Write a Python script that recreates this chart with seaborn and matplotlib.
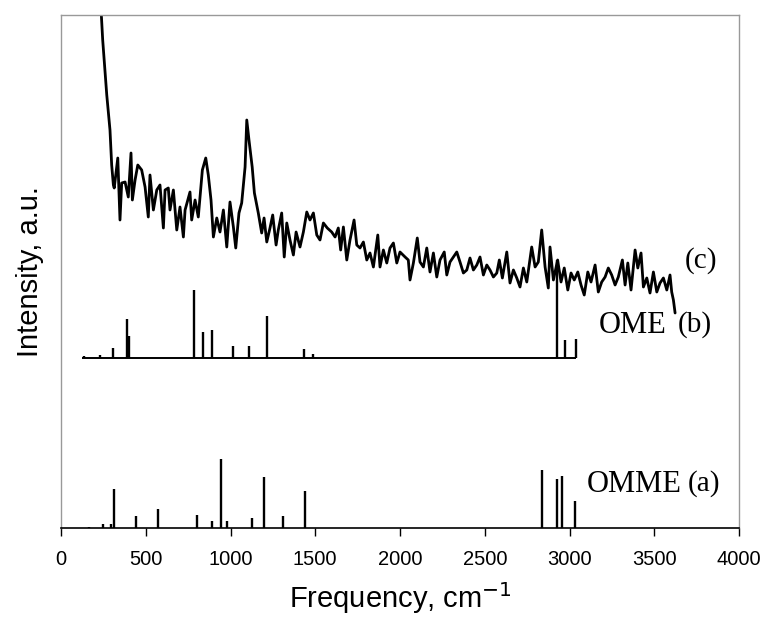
import matplotlib
matplotlib.use("Agg")
import matplotlib.pyplot as plt
import seaborn as sns
import pandas as pd

# spectrum (c), frequency in cm-1 and intensity in arbitrary units
c_freq = [238, 246, 270, 289, 299, 309, 314, 335, 348, 358, 378, 397, 413, 421,
          437, 453, 476, 496, 515, 525, 545, 565, 584, 604, 614, 633, 643, 663,
          683, 702, 722, 732, 761, 771, 791, 810, 834, 854, 869, 885, 899, 919,
          938, 958, 978, 997, 1017, 1031, 1050, 1066, 1086, 1096, 1109, 1128,
          1141, 1164, 1184, 1198, 1214, 1233, 1249, 1269, 1282, 1302, 1317,
          1332, 1351, 1371, 1387, 1410, 1430, 1450, 1469, 1489, 1509, 1528,
          1548, 1571, 1597, 1617, 1636, 1650, 1666, 1686, 1705, 1729, 1745,
          1764, 1784, 1804, 1823, 1843, 1869, 1882, 1902, 1922, 1941, 1961,
          1981, 2000, 2030, 2049, 2059, 2079, 2102, 2118, 2138, 2158, 2177,
          2197, 2217, 2236, 2261, 2276, 2295, 2315, 2335, 2354, 2374, 2394,
          2413, 2433, 2453, 2472, 2492, 2512, 2531, 2551, 2571, 2586, 2604,
          2630, 2649, 2669, 2689, 2708, 2728, 2748, 2777, 2797, 2816, 2836,
          2856, 2875, 2885, 2905, 2930, 2950, 2969, 2990, 3009, 3028, 3049,
          3068, 3087, 3108, 3127, 3151, 3170, 3190, 3210, 3229, 3249, 3269,
          3288, 3312, 3328, 3344, 3363, 3387, 3403, 3422, 3436, 3456, 3475,
          3495, 3515, 3534, 3554, 3574, 3593, 3603, 3613, 3623]
c_int = [513, 488, 433, 398, 363, 343, 340, 370, 308, 345, 346, 331, 375, 328,
         348, 363, 358, 341, 311, 353, 318, 338, 343, 300, 338, 340, 318, 338,
         298, 321, 291, 318, 336, 308, 328, 311, 358, 370, 353, 328, 291, 310,
         296, 318, 281, 326, 301, 280, 315, 325, 361, 408, 388, 361,
         335, 315, 295, 310, 286, 300, 313, 283, 298, 315, 271,
         305, 288, 273, 296, 281, 296, 316, 308, 315, 293, 288,
         305, 300, 296, 291, 300, 278, 301, 268, 288, 308, 283,
         280, 286, 268, 275, 261, 293, 261, 278, 265, 280, 285,
         265, 276, 271, 268, 248, 265, 290, 266, 261, 280, 256,
         275, 251, 268, 276, 253, 266, 271, 276, 266, 255, 258,
         270, 258, 263, 271, 253, 263, 258, 251, 255, 268, 250,
         276, 245, 258, 250, 241, 260, 246, 281, 261, 266, 298,
         261, 240, 281, 248, 268, 246, 260, 238, 255, 248, 256,
         243, 233, 256, 246, 263, 236, 246, 251, 260, 253, 243,
         251, 268, 243, 265, 238, 278, 260, 275, 241, 250, 235,
         256, 236, 245, 250, 238, 253, 236, 228, 215]

# OME (b) calculated lines
ome_base = 170
ome_range = [124, 3038]
ome_freq = [135, 230, 305, 391, 401, 787, 840, 889, 1017, 1109, 1217, 1436,
            1485, 2928, 2975, 3036]
ome_int = [2, 3, 10, 39, 22, 68, 26, 28, 12, 12, 42, 9, 4, 98, 18, 19]

# OMME (a) calculated lines
omme_freq = [165, 250, 293, 315, 442, 572, 800, 889, 944, 977, 1129, 1200,
             1308, 1440, 2838, 2924, 2958, 3033]
omme_int = [1, 4, 4, 39, 12, 19, 13, 7, 69, 7, 10, 51, 12, 37, 58, 49, 52, 27]

sns.set_style("ticks")
plt.rcParams['font.family'] = ['Liberation Sans', 'DejaVu Sans']
plt.rcParams['text.color'] = 'black'
plt.rcParams['axes.labelcolor'] = 'black'
plt.rcParams['xtick.color'] = 'black'
plt.rcParams['xtick.labelcolor'] = 'black'

fig = plt.figure(figsize=(7.63, 6.22), dpi=100)
ax = fig.add_axes([61 / 763, 94 / 622, 678 / 763, 513 / 622])

spec = pd.DataFrame({"freq": c_freq, "intensity": c_int})
sns.lineplot(data=spec, x="freq", y="intensity", color="black", lw=2.0,
             estimator=None, ax=ax)

ax.hlines(ome_base, ome_range[0], ome_range[1], color="black", lw=1.4)
ax.vlines(ome_freq, ome_base, [ome_base + v for v in ome_int],
          color="black", lw=1.7)
ax.vlines(omme_freq, 0, omme_int, color="black", lw=1.7)

serif = ['Liberation Serif', 'DejaVu Serif']
ax.text(3100, 44, "OMME", family=serif, fontsize=22, va="center")
ax.text(3700, 44, "(a)", family=serif, fontsize=21, va="center")
ax.text(3175, 203, "OME", family=serif, fontsize=22, va="center")
ax.text(3640, 203, "(b)", family=serif, fontsize=21, va="center")
ax.text(3682, 267, "(c)", family=serif, fontsize=21, va="center")

ax.set_xlim(0, 4000)
ax.set_ylim(0, 513)
ax.set_xticks(range(0, 4001, 500))
ax.set_yticks([])
ax.tick_params(axis="x", direction="out", length=6, width=1,
               labelsize=14.5, pad=10)
ax.set_xlabel("Frequency, cm$^{-1}$", fontsize=21, labelpad=8)
ax.set_ylabel("Intensity, a.u.", fontsize=21, labelpad=12)

for side in ["left", "top", "right"]:
    ax.spines[side].set_color("0.6")
    ax.spines[side].set_linewidth(1)
ax.spines["bottom"].set_color("black")
ax.spines["bottom"].set_linewidth(1.2)

fig.savefig("out.png", dpi=100)
